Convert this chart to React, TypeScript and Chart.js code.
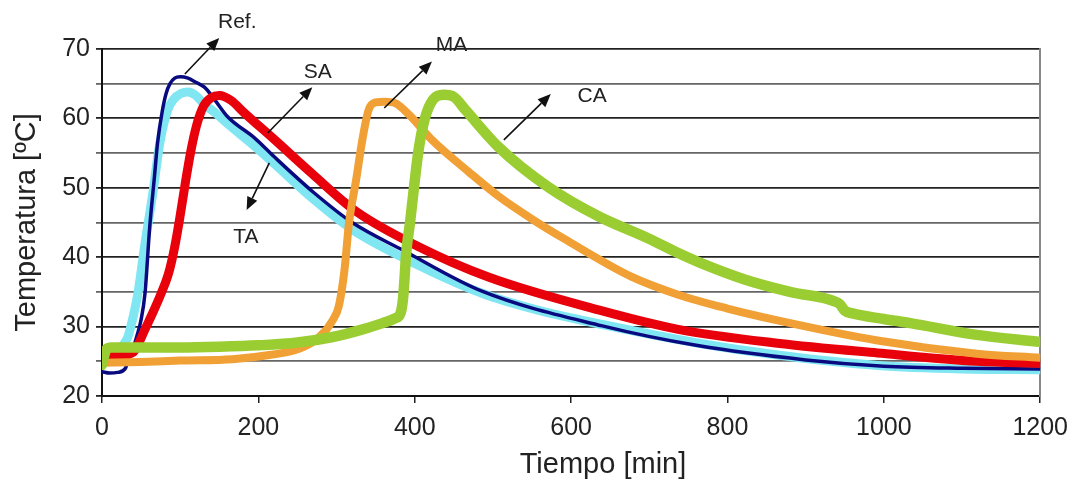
import React, { useEffect, useRef } from "react";
import { Chart, registerables } from "chart.js";

Chart.register(...registerables);

// ---- Data ----
const xTicks = [0, 200, 400, 600, 800, 1000, 1200];
const yTickLabels = [20, 30, 40, 50, 60, 70];

const refTime = [0, 10, 20, 30, 35, 40, 45, 50, 55, 61, 67, 71, 77, 82, 87, 93, 100, 110, 120, 131, 144, 161, 195, 220, 270, 320, 385, 486, 640, 760, 900, 1000, 1100, 1200];
const refTemp = [23.5, 23.3, 23.4, 24, 26, 27, 28.8, 31, 34.8, 44.3, 51.5, 56.4, 61, 63.6, 65, 65.8, 66, 65.8, 65.2, 64.5, 62.7, 60.2, 57.2, 54.5, 49.4, 45, 41, 35.1, 30.1, 27.3, 25.2, 24.3, 24, 23.9];

const taTime = [0, 10, 20, 28, 33, 40, 46, 55, 65, 74, 84, 92, 101, 110, 120, 131, 145, 161, 195, 220, 270, 320, 384, 486, 560, 640, 763, 864, 992, 1100, 1200];
const taTemp = [25.5, 26, 26.8, 27.5, 28.5, 31.5, 34.8, 42, 49.2, 56.5, 61.2, 62.8, 63.6, 63.8, 63.3, 62, 60.8, 59.2, 56, 53.5, 48.4, 44, 40, 34.8, 32.3, 30.3, 27.6, 25.9, 24.4, 23.9, 23.8];

const saTime = [0, 20, 40, 46, 55, 65, 75, 85, 93, 100, 107, 114, 121, 130, 140, 150, 165, 182, 220, 269, 325, 405, 495, 635, 737, 864, 992, 1119, 1200];
const saTemp = [25.8, 25.8, 26.3, 27.4, 29.6, 32, 34.6, 37.6, 41.5, 46, 51, 55.5, 59, 61.8, 63, 63.3, 62.6, 60.8, 57, 52, 46.6, 41.5, 37.1, 32.4, 29.6, 27.6, 26.2, 25, 24.7];

const maTime = [0, 50, 100, 167, 214, 252, 278, 295, 303, 310, 316, 325, 333, 341, 350, 362, 375, 393, 422, 469, 507, 550, 592, 677, 737, 800, 864, 992, 1119, 1200];
const maTemp = [24.8, 24.9, 25.1, 25.3, 25.9, 26.8, 28.5, 30.9, 33, 38, 45, 51.1, 56.9, 61.2, 62.3, 62.4, 62.2, 60.5, 56.9, 52.3, 48.8, 45.5, 42.6, 37.2, 34.6, 32.6, 30.9, 28, 26.1, 25.5];

const caTime = [0, 6, 12, 50, 100, 150, 200, 250, 295, 330, 359, 375, 382, 385, 387, 389, 394, 399, 405, 413, 424, 437, 450, 465, 507, 571, 635, 699, 737, 763, 822, 880, 940, 944, 950, 960, 1000, 1034, 1119, 1200];
const caTemp = [24.5, 26.8, 27, 27, 27, 27.1, 27.3, 27.7, 28.5, 29.5, 30.5, 31.2, 32, 34, 37, 40.5, 45, 50, 55.5, 60, 62.8, 63.4, 63.1, 61.2, 55.9, 50.1, 45.9, 42.7, 40.6, 39.3, 36.8, 35, 33.5, 33.2, 32.3, 31.9, 31.1, 30.5, 28.8, 27.8];

// Annotation labels with arrows (in data coordinates: [time, temperature])
const annoLabels = ["Ref.", "SA", "TA", "MA", "CA"];
const annoText = [[173, 73.9], [276, 66.6], [184, 42.9], [447, 70.5], [627, 63.2]];
const annoFrom = [[106, 66.4], [212, 57.9], [214, 53.6], [361, 61.5], [514, 56.9]];
const annoTo = [[150, 71.6], [269, 64.5], [185, 46.8], [422, 68.2], [574, 63.5]];

const xTitle = "Tiempo [min]";
const yTitle = "Temperatura [ºC]";

const FONT = "'Liberation Sans', Arial, sans-serif";

const toXY = (t: number[], v: number[]) => t.map((x, i) => ({ x, y: v[i] }));

const annotationPlugin = {
  id: "arrowLabels",
  afterDatasetsDraw(chart: any) {
    const { ctx, scales, chartArea } = chart;
    const xs = scales.x;
    const ys = scales.y;
    ctx.save();
    ctx.strokeStyle = "#111";
    ctx.lineWidth = 1.6;
    for (let i = 0; i < annoLabels.length; i++) {
      const x1 = xs.getPixelForValue(annoFrom[i][0]);
      const y1 = ys.getPixelForValue(annoFrom[i][1]);
      const x2 = xs.getPixelForValue(annoTo[i][0]);
      const y2 = ys.getPixelForValue(annoTo[i][1]);
      const ang = Math.atan2(y2 - y1, x2 - x1);
      const hl = 13;
      const hw = 5.5;
      const bx = x2 - hl * Math.cos(ang);
      const by = y2 - hl * Math.sin(ang);
      ctx.beginPath();
      ctx.moveTo(x1, y1);
      ctx.lineTo(bx, by);
      ctx.stroke();
      ctx.fillStyle = "#111";
      ctx.beginPath();
      ctx.moveTo(x2, y2);
      ctx.lineTo(bx + hw * Math.sin(ang), by - hw * Math.cos(ang));
      ctx.lineTo(bx - hw * Math.sin(ang), by + hw * Math.cos(ang));
      ctx.closePath();
      ctx.fill();
      ctx.font = `21px ${FONT}`;
      ctx.fillStyle = "#222";
      ctx.textAlign = "center";
      ctx.textBaseline = "middle";
      ctx.fillText(
        annoLabels[i],
        xs.getPixelForValue(annoText[i][0]),
        ys.getPixelForValue(annoText[i][1])
      );
    }
    // x-axis title (sits a little right of the plot centre in the reference)
    ctx.font = `29px ${FONT}`;
    ctx.fillStyle = "#222";
    ctx.textAlign = "center";
    ctx.textBaseline = "middle";
    const cx = chartArea.left + 0.534 * (chartArea.right - chartArea.left);
    ctx.fillText(xTitle, cx, chart.height - 17);
    ctx.restore();
  },
};

export default function App() {
  const ref = useRef<HTMLCanvasElement | null>(null);

  useEffect(() => {
    if (!ref.current) return;
    const mk = (label: string, t: number[], v: number[], color: string, w: number) => ({
      label,
      data: toXY(t, v),
      borderColor: color,
      backgroundColor: color,
      borderWidth: w,
      pointRadius: 0,
      fill: false,
      cubicInterpolationMode: "monotone" as const,
      borderCapStyle: "round" as const,
      borderJoinStyle: "round" as const,
    });
    const chart = new Chart(ref.current, {
      type: "line",
      data: {
        datasets: [
          mk("CA", caTime, caTemp, "#9acd32", 10.5),
          mk("MA", maTime, maTemp, "#f0a035", 8),
          mk("SA", saTime, saTemp, "#e8000b", 9),
          mk("Ref.", refTime, refTemp, "#0a0a80", 3.5),
          mk("TA", taTime, taTemp, "#80e6f2", 9),
        ],
      },
      plugins: [annotationPlugin],
      options: {
        animation: false,
        responsive: false,
        devicePixelRatio: 1,
        layout: { padding: { top: 49, right: 35, left: 0, bottom: 0 } },
        plugins: { legend: { display: false }, tooltip: { enabled: false } },
        scales: {
          x: {
            type: "linear",
            min: 0,
            max: 1200,
            afterBuildTicks: (s: any) => {
              s.ticks = xTicks.map((v) => ({ value: v }));
            },
            afterFit: (s: any) => {
              s.height = 86;
            },
            ticks: {
              color: "#222",
              font: { family: FONT, size: 25 },
              padding: 10,
              maxRotation: 0,
              callback: (v: any) => String(v),
            },
            grid: {
              drawOnChartArea: false,
              drawTicks: true,
              tickLength: 7,
              color: "#222",
              lineWidth: 1.5,
            },
            border: { display: true, color: "#111", width: 2 },
            title: { display: false, text: xTitle },
          },
          y: {
            type: "linear",
            min: 20,
            max: 70,
            afterFit: (s: any) => {
              s.width = 102;
            },
            ticks: {
              stepSize: 5,
              color: "#222",
              font: { family: FONT, size: 25 },
              padding: 6,
              callback: (v: any) => (yTickLabels.includes(Number(v)) ? String(v) : ""),
            },
            grid: {
              color: (c: any) => (c.tick && c.tick.value % 10 === 0 ? "#222" : "#666"),
              lineWidth: 1.8,
              tickLength: 6,
            },
            border: { display: true, color: "#111", width: 2 },
            title: {
              display: true,
              text: yTitle,
              color: "#222",
              font: { family: FONT, size: 29 },
              padding: { top: 10, bottom: 0 },
            },
          },
          y2: {
            type: "linear",
            position: "right",
            min: 20,
            max: 70,
            afterFit: (s: any) => {
              s.width = 0;
            },
            ticks: { display: false },
            grid: { drawOnChartArea: false, drawTicks: false },
            border: { display: true, color: "#888", width: 2 },
          },
        },
      },
    });
    return () => chart.destroy();
  }, []);

  return (
    <div style={{ position: "fixed", left: 0, top: 0, width: 1078, height: 482, background: "#fff" }}>
      <canvas ref={ref} width={1078} height={482} style={{ display: "block" }} />
    </div>
  );
}
